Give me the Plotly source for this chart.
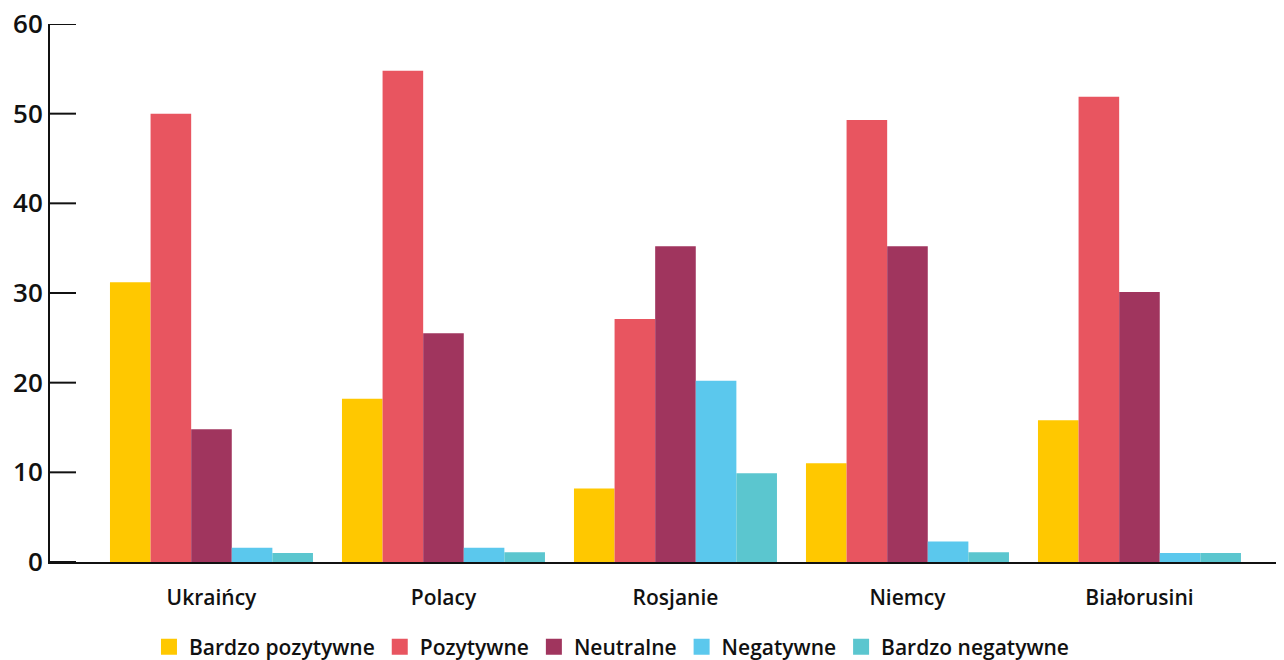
import plotly.graph_objects as go

categories = ["Ukraińcy", "Polacy", "Rosjanie", "Niemcy", "Białorusini"]
series_names = ["Bardzo pozytywne", "Pozytywne", "Neutralne", "Negatywne", "Bardzo negatywne"]
bardzo_pozytywne = [31.2, 18.2, 8.2, 11.0, 15.8]
pozytywne = [50.0, 54.8, 27.1, 49.3, 51.9]
neutralne = [14.8, 25.5, 35.2, 35.2, 30.1]
negatywne = [1.6, 1.6, 20.2, 2.3, 1.0]
bardzo_negatywne = [1.0, 1.1, 9.9, 1.1, 1.0]
y_ticks = [0, 10, 20, 30, 40, 50, 60]

colors = ["#FFC800", "#E85560", "#A0355E", "#5BC8ED", "#5BC6CF"]
values = [bardzo_pozytywne, pozytywne, neutralne, negatywne, bardzo_negatywne]

PLOT_W = 1234
TICK_LEN = 26

fig = go.Figure()
for name, vals, col in zip(series_names, values, colors):
    fig.add_trace(go.Bar(name=name, x=categories, y=vals, marker_color=col,
                         marker_line_width=0, showlegend=False))
# legend entries with larger square swatches
for name, col in zip(series_names, colors):
    fig.add_trace(go.Scatter(name=name, x=[None], y=[None], mode="markers",
                             marker=dict(symbol="square", size=17, color=col),
                             showlegend=True))

# inward tick marks on the y axis, one per tick value
for v in y_ticks:
    fig.add_shape(type="line", xref="x domain", yref="y",
                  x0=0, x1=TICK_LEN / PLOT_W, y0=v, y1=v,
                  line=dict(color="#111111", width=2), layer="above")

# page body has an 8px default margin, so the figure is drawn 8px in
fig.update_layout(
    width=1276, height=652,
    margin=dict(l=42, r=0, t=16, b=98, autoexpand=False),
    barmode="group", bargap=0.125, bargroupgap=0,
    plot_bgcolor="white", paper_bgcolor="white",
    font=dict(family="Open Sans", color="#111111"),
    showlegend=True,
    legend=dict(orientation="h", x=0.455, xanchor="center", y=-0.158, yanchor="middle",
                font=dict(size=21, family="Open Sans", weight=600), itemwidth=30,
                traceorder="normal", tracegroupgap=0),
)
fig.update_xaxes(
    range=[-0.696, 4.623], showline=True, linecolor="#111111", linewidth=2,
    ticks="", tickfont=dict(size=21, family="Open Sans", weight=600),
    showgrid=False, zeroline=False, automargin=False, ticklabelstandoff=16,
)
fig.update_yaxes(
    range=[0, 60], tickvals=y_ticks, showline=True, linecolor="#111111", linewidth=2,
    ticks="", tickfont=dict(size=26, family="Open Sans", weight=600),
    showgrid=False, zeroline=False, automargin=False, ticklabeloverflow="allow",
)
fig.write_html("out.html")
